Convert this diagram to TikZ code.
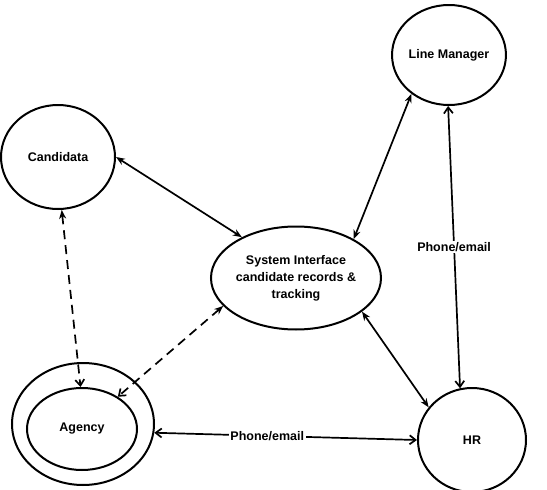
\documentclass[tikz,border=0pt]{standalone}
\usepackage{fontspec}
\setmainfont{Liberation Sans}
\usetikzlibrary{arrows.meta,shapes.geometric}
\definecolor{EdgeClr}{rgb}{0,0,0}
\definecolor{PaperClr}{rgb}{1,1,1}

\begin{document}
\begin{tikzpicture}[x=1pt,y=-1pt,
  every node/.style={font=\fontsize{12.5}{17}\selectfont\bfseries},
  party/.style={draw=EdgeClr,ellipse,line width=2pt,inner sep=0pt,align=center},
  link/.style={draw=EdgeClr,line width=1.7pt},
  tip/.style={{Stealth[length=9pt,width=7pt]}-{Stealth[length=9pt,width=7pt]}},
  barb/.style={{Straight Barb[length=6pt,width=9pt]}-{Straight Barb[length=6pt,width=9pt]}},
  dashlink/.style={link,dash pattern=on 9pt off 6pt},
  tag/.style={fill=PaperClr,inner sep=1.5pt}]
\useasboundingbox[fill=PaperClr] (0,0) rectangle (547,490);

\node[party,minimum width=114,minimum height=104] (cand) at (58,157) {Candidata};
\node[party,minimum width=108,minimum height=100] (lm) at (449,55) {Line Manager};
\node[party,minimum width=170,minimum height=103] (sys) at (296,278)
  {System Interface\\candidate records \&\\tracking};
\node[party,minimum width=142,minimum height=122] (agout) at (83,424) {};
\node[party,minimum width=110,minimum height=82] (agin) at (82,429) {Agency};
\node[party,minimum width=108,minimum height=104] (hr) at (472,440) {HR};

% solid links
\draw[link,tip] (cand.0) -- (sys.143);
\draw[link,tip] (lm.226) -- (sys.34);
\draw[link,tip] (sys.-27) -- (hr.143);

% phone / email
\draw[link,barb] (lm.269) -- node[tag] {Phone/email} (hr.103);
\draw[link,barb] (agout.-7) -- node[tag,pos=.43] {Phone/email} (hr.180);

% agency links
\draw[dashlink,{Stealth[length=9pt,width=7pt]}-{Straight Barb[length=6pt,width=9pt]}] (cand.274) -- (agin.92);
\draw[dashlink,{Stealth[length=9pt,width=7pt]}-{Straight Barb[length=6pt,width=9pt]}] (sys.201) -- (agin.42);

\end{tikzpicture}
\end{document}
